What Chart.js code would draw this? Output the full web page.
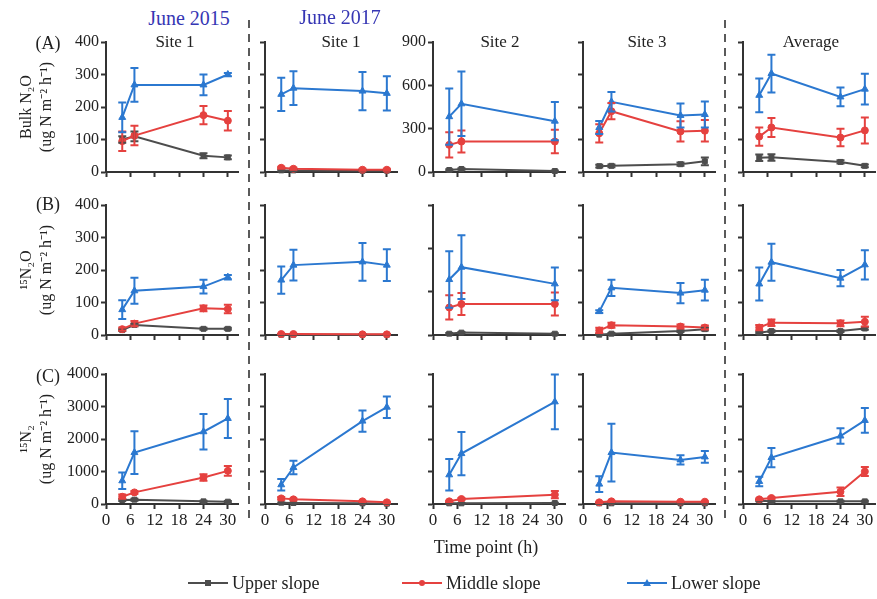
<!DOCTYPE html>
<html><head><meta charset="utf-8">
<script src="https://cdn.jsdelivr.net/npm/chart.js@4.4.1/dist/chart.umd.min.js"></script>
<style>
body{margin:0;width:877px;height:599px;background:#fff;position:relative;overflow:hidden;font-family:"Liberation Serif","Times New Roman",serif;}
canvas.cv{position:absolute;}
.t{position:absolute;white-space:nowrap;color:#222;transform:translate(-50%,-50%);line-height:1;}
.dash{position:absolute;width:2px;background:repeating-linear-gradient(to bottom,#5a5a5a 0 8px,transparent 8px 14px);}
.leg{position:absolute;display:flex;align-items:center;font-size:18px;color:#222;line-height:1;}
.leg svg{margin-right:4px;}
</style></head><body>
<script>
// ---------- data ----------
const timeStd = [4, 7, 24, 30];
const timeSite2 = [4, 7, 30];
const panelTimes = [timeStd, timeStd, timeSite2, timeStd, timeStd];
const xTickValues = [0, 6, 12, 18, 24, 30];
const years = ['June 2015', 'June 2017'];
const sites = ['Site 1', 'Site 1', 'Site 2', 'Site 3', 'Average'];
const rowLetters = ['(A)', '(B)', '(C)'];
const seriesNames = ['Upper slope', 'Middle slope', 'Lower slope'];

// Row A: Bulk N2O (ug N m-2 h-1)
const bulkUpper = [[100,110,50,45],[5,5,4,4],[14,21,7],[18,19,24,33],[44,45,31,19]];
const bulkUpperErr = [[10,15,8,6],[2,2,2,2],[5,5,4],[4,4,5,12],[10,10,5,4]];
const bulkMiddle = [[95,112,175,158],[13,10,7,7],[188,211,211],[119,187,125,127],[109,137,106,128]];
const bulkMiddleErr = [[30,30,28,30],[3,3,3,3],[88,76,81],[28,25,31,33],[28,29,27,40]];
const bulkLower = [[168,268,268,300],[239,258,249,242],[383,472,352],[137,216,174,177],[236,303,231,255]];
const bulkLowerErr = [[46,52,32,5],[51,52,59,53],[195,223,133],[20,30,37,40],[52,58,29,47]];

// Row B: 15N2O
const isoUpper = [[15,31,19,19],[1,1,1,1],[6,11,6],[1,4,12,18],[7,12,12,20]];
const isoUpperErr = [[3,4,3,3],[1,1,1,1],[3,3,2],[2,2,3,4],[3,3,3,4]];
const isoMiddle = [[18,35,82,80],[3,3,2,2],[127,143,143],[14,30,26,23],[23,38,36,41]];
const isoMiddleErr = [[5,8,9,13],[1,1,1,1],[56,51,53],[8,8,6,6],[8,10,9,15]];
const isoLower = [[78,136,149,178],[169,215,225,215],[256,313,236],[72,145,129,138],[157,224,175,216]];
const isoLowerErr = [[29,40,21,7],[42,47,58,49],[130,147,76],[4,25,31,32],[51,57,25,45]];

// Row C: 15N2
const n2Upper = [[122,133,82,71],[40,30,20,10],[20,20,30],[20,20,20,20],[102,82,82,82]];
const n2UpperErr = [[30,30,20,20],[10,10,10,5],[10,10,10],[10,10,10,10],[20,20,15,15]];
const n2Middle = [[224,357,816,1020],[173,143,82,51],[82,153,286],[51,82,71,71],[143,184,378,1000]];
const n2MiddleErr = [[65,40,100,150],[40,30,20,20],[20,30,112],[20,20,15,15],[30,30,128,140]];
const n2Lower = [[714,1582,2224,2633],[592,1122,2551,2980],[898,1551,3143],[612,1582,1357,1449],[694,1429,2092,2571]];
const n2LowerErr = [[255,660,546,600],[178,205,327,330],[485,665,840],[240,890,143,180],[148,295,240,380]];

// axis ranges / ticks
const yMaxByRow = [[400,400,900,400,400],[400,400,600,400,400],[4000,4000,4000,4000,4000]];
const yStepByRow = [[100,100,300,100,100],[100,100,200,100,100],[1000,1000,1000,1000,1000]];
const yTitles = [['Bulk N\u2082O','(ug N m\u207B\u00B2 h\u207B\u00B9)'],['\u00B9\u2075N\u2082O','(ug N m\u207B\u00B2 h\u207B\u00B9)'],['\u00B9\u2075N\u2082','(ug N m\u207B\u00B2 h\u207B\u00B9)']];
const xTitle = 'Time point (h)';
const xMax = 32.5;

const rowsData = [
  [bulkUpper, bulkUpperErr, bulkMiddle, bulkMiddleErr, bulkLower, bulkLowerErr],
  [isoUpper, isoUpperErr, isoMiddle, isoMiddleErr, isoLower, isoLowerErr],
  [n2Upper, n2UpperErr, n2Middle, n2MiddleErr, n2Lower, n2LowerErr]
];

// ---------- styles / layout ----------
const FONT = '"Liberation Serif","Times New Roman",serif';
const colors = ['#4d4d4d', '#e5413f', '#2b78d0'];
const shapes = ['rect', 'circle', 'triangle'];
const radii = [3.5, 3.5, 4];
const colX0 = [106, 265, 433, 583, 743];
const rowTop = [42, 205, 374];
const plotW = 132, plotH = 130;
const yW = [106, 30, 36, 30, 30];
const padTop = 12, padRight = 6;

const errorBars = {
  id: 'errorBars',
  afterDatasetsDraw(chart) {
    const {ctx, scales: {x, y}} = chart;
    chart.data.datasets.forEach(ds => {
      if (!ds.errors) return;
      ctx.save();
      ctx.strokeStyle = ds.borderColor;
      ctx.lineWidth = 2;
      ds.data.forEach((p, j) => {
        const e = ds.errors[j];
        if (!e) return;
        const px = x.getPixelForValue(p.x);
        const y1 = y.getPixelForValue(p.y + e);
        const y2 = y.getPixelForValue(Math.max(0, p.y - e));
        ctx.beginPath();
        ctx.moveTo(px, y1); ctx.lineTo(px, y2);
        ctx.moveTo(px - 4, y1); ctx.lineTo(px + 4, y1);
        ctx.moveTo(px - 4, y2); ctx.lineTo(px + 4, y2);
        ctx.stroke();
      });
      ctx.restore();
    });
  }
};

function addText(txt, cx, cy, size, color) {
  const d = document.createElement('div');
  d.className = 't';
  d.textContent = txt;
  d.style.left = cx + 'px';
  d.style.top = cy + 'px';
  d.style.fontSize = size + 'px';
  if (color) d.style.color = color;
  document.body.appendChild(d);
}

function makePanel(r, c) {
  const xH = r === 2 ? 30 : 14;
  const W = yW[c] + plotW + padRight;
  const H = padTop + plotH + xH;
  const cv = document.createElement('canvas');
  cv.className = 'cv';
  cv.width = W; cv.height = H;
  cv.style.width = W + 'px'; cv.style.height = H + 'px';
  cv.style.left = (colX0[c] - yW[c]) + 'px';
  cv.style.top = (rowTop[r] - padTop) + 'px';
  document.body.appendChild(cv);

  const times = panelTimes[c];
  const rd = rowsData[r];
  const datasets = [0, 1, 2].map(s => ({
    label: seriesNames[s],
    data: times.map((t, i) => ({x: t, y: rd[s * 2][c][i]})),
    errors: rd[s * 2 + 1][c],
    borderColor: colors[s],
    backgroundColor: colors[s],
    pointStyle: shapes[s],
    pointRadius: radii[s],
    pointBorderWidth: 1,
    borderWidth: 2,
    tension: 0,
    clip: false,
    order: 3 - s
  }));

  const showYLabels = (c === 0) || (r === 0 && c === 2);
  const showXLabels = r === 2;

  new Chart(cv, {
    type: 'line',
    data: {datasets},
    options: {
      responsive: false,
      animation: false,
      devicePixelRatio: 1,
      layout: {padding: {top: padTop, right: padRight, left: 0, bottom: 0}},
      plugins: {legend: {display: false}, tooltip: {enabled: false}},
      scales: {
        x: {
          type: 'linear', min: 0, max: xMax,
          afterBuildTicks: s => { s.ticks = xTickValues.map(v => ({value: v})); },
          afterFit: s => { s.height = xH; },
          ticks: {autoSkip: false, maxRotation: 0, padding: 1,
                  callback: v => String(v),
                  color: showXLabels ? '#222' : 'rgba(0,0,0,0)', font: {family: FONT, size: 17}},
          grid: {drawOnChartArea: false, drawTicks: true, tickLength: 5, tickWidth: 2, tickColor: '#333'},
          border: {color: '#333', width: 2}
        },
        y: {
          min: 0, max: yMaxByRow[r][c],
          afterFit: s => { s.width = yW[c]; },
          ticks: {stepSize: yStepByRow[r][c], padding: 2,
                  callback: v => String(v),
                  color: showYLabels ? '#222' : 'rgba(0,0,0,0)', font: {family: FONT, size: 16}},
          grid: {drawOnChartArea: false, drawTicks: true, tickLength: 5, tickWidth: 2, tickColor: '#333'},
          border: {color: '#333', width: 2},
          title: {display: c === 0, text: yTitles[r], color: '#222',
                  font: {family: FONT, size: 16, lineHeight: 1.3}, padding: {top: 16, bottom: 0}}
        }
      }
    },
    plugins: [errorBars]
  });
}

for (let r = 0; r < 3; r++) for (let c = 0; c < 5; c++) makePanel(r, c);

// dashed separators
[249, 725].forEach(x => {
  const d = document.createElement('div');
  d.className = 'dash';
  d.style.left = (x - 1) + 'px';
  d.style.top = '20px';
  d.style.height = '500px';
  document.body.appendChild(d);
});

// headers
addText(years[0], 189, 18, 20, '#3636b4');
addText(years[1], 340, 17, 20, '#3636b4');
const siteX = [175, 341, 500, 647, 811];
sites.forEach((s, i) => addText(s, siteX[i], 41, 17));
const letterY = [43, 204, 376];
rowLetters.forEach((l, i) => addText(l, 48, letterY[i], 18));
addText(xTitle, 486, 547, 18);

// legend
const legX = [188, 402, 627];
seriesNames.forEach((n, i) => {
  const d = document.createElement('div');
  d.className = 'leg';
  d.style.left = legX[i] + 'px';
  d.style.top = '574px';
  let mk;
  if (i === 0) mk = `<rect x="17" y="6" width="6" height="6" fill="${colors[i]}"/>`;
  else if (i === 1) mk = `<circle cx="20" cy="9" r="3" fill="${colors[i]}"/>`;
  else mk = `<polygon points="20,5 24,12 16,12" fill="${colors[i]}"/>`;
  d.innerHTML = `<svg width="40" height="18"><line x1="0" y1="9" x2="40" y2="9" stroke="${colors[i]}" stroke-width="2"/>${mk}</svg><span>${n}</span>`;
  document.body.appendChild(d);
});
</script>
</body></html>
